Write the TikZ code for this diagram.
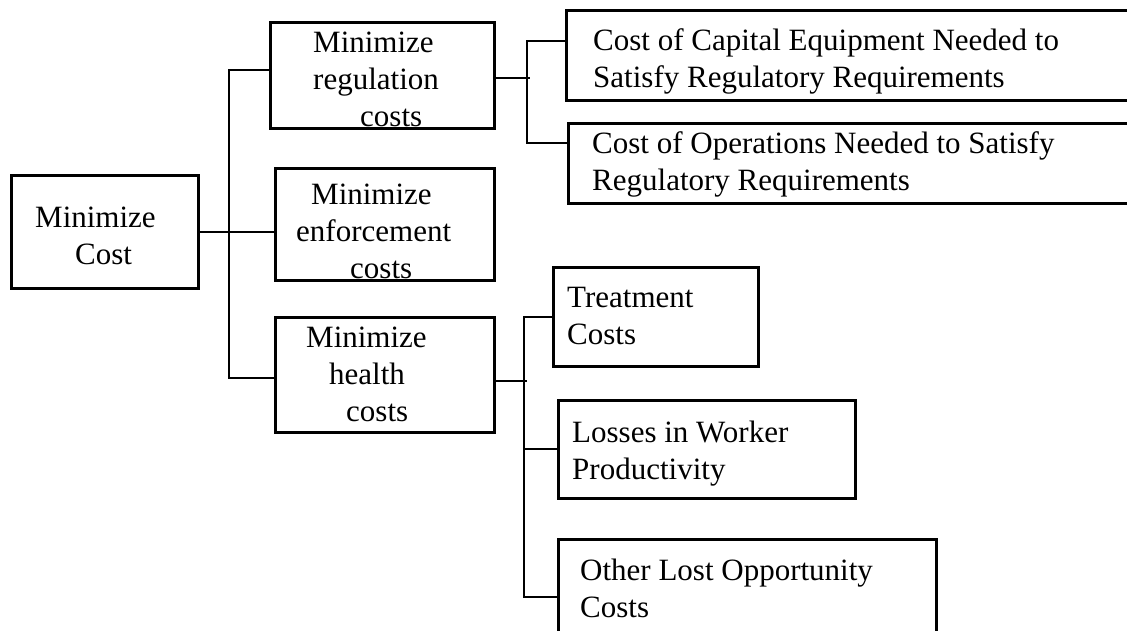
\documentclass[tikz,border=0pt]{standalone}
\usepackage{fontspec}
\setmainfont{Liberation Serif}

\begin{document}
\begin{tikzpicture}[
    x=1pt, y=-1pt,
    font=\fontsize{31}{37}\selectfont,
    box/.style={draw, line width=2.7pt, inner sep=0pt, anchor=north west},
    txt/.style={anchor=north west, inner sep=0pt, align=left},
    link/.style={line width=2pt}
  ]
    \clip (0,0) rectangle (1127,631);
    \node[box, minimum width=187pt, minimum height=113pt] (cost) at (10,174) {};
    \node[box, minimum width=224pt, minimum height=106pt] (reg) at (269,21) {};
    \node[box, minimum width=219pt, minimum height=112pt] (enf) at (274,167) {};
    \node[box, minimum width=219pt, minimum height=115pt] (hea) at (274,316) {};
    \node[box, minimum width=600pt, minimum height=90pt] (cap) at (565,9) {};
    \node[box, minimum width=600pt, minimum height=80pt] (ops) at (567,122) {};
    \node[box, minimum width=205pt, minimum height=99pt] (trt) at (552,266) {};
    \node[box, minimum width=297pt, minimum height=98pt] (los) at (557,399) {};
    \node[box, minimum width=378pt, minimum height=116pt] (oth) at (557,538) {};

    \node[txt] (cost-t) at (35,207) {Minimize\\\hspace*{40pt}Cost};
    \node[txt] (reg-t) at (313,32) {Minimize\\regulation\\\hspace*{47pt}costs};
    \node[txt] (enf-t) at (296,184)
      {\hspace*{15pt}Minimize\\enforcement\\\hspace*{54pt}costs};
    \node[txt] (hea-t) at (306,327)
      {Minimize\\\hspace*{23pt}health\\\hspace*{40pt}costs};
    \node[txt] (cap-t) at (593,28)
      {Cost of Capital Equipment Needed to\\Satisfy Regulatory Requirements};
    \node[txt] (ops-t) at (592,131)
      {Cost of Operations Needed to Satisfy\\Regulatory Requirements};
    \node[txt] (trt-t) at (567,287) {Treatment\\Costs};
    \node[txt] (los-t) at (572,421) {Losses in Worker\\Productivity};
    \node[txt] (oth-t) at (580,559) {Other Lost Opportunity\\Costs};

    \draw[link] (cost.east) -- (cost.east -| enf.west);
    \draw[link] ([yshift=5pt]reg.west) -| ([xshift=-45pt,yshift=-3.5pt]hea.west)
      -- ([yshift=-3.5pt]hea.west);

    \draw[link] ([yshift=-3pt]reg.east) -- ++(34,0);
    \draw[link] ([yshift=14pt]cap.west) -| ([xshift=-40pt,yshift=20pt]ops.west)
      -- ([yshift=20pt]ops.west);

    \draw[link] ([yshift=-6.5pt]hea.east) -- ++(31,0);
    \draw[link] (trt.west) -| ([xshift=-33pt]oth.west) -- (oth.west);
    \draw[link] (los.west) -- ++(-33,0);
  \end{tikzpicture}
\end{document}
